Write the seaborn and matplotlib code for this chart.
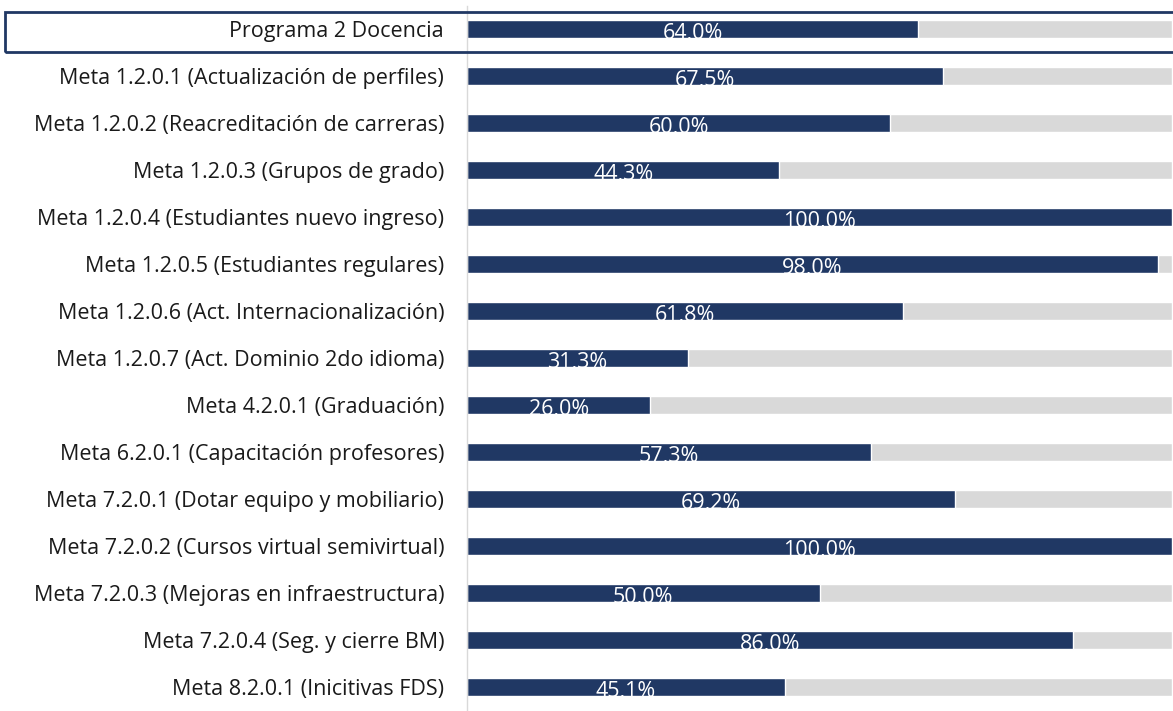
import pandas as pd
import matplotlib.pyplot as plt
import seaborn as sns
from matplotlib.patches import Rectangle

# Data
labels = [
    "Programa 2 Docencia",
    "Meta 1.2.0.1 (Actualización de perfiles)",
    "Meta 1.2.0.2 (Reacreditación de carreras)",
    "Meta 1.2.0.3 (Grupos de grado)",
    "Meta 1.2.0.4 (Estudiantes nuevo ingreso)",
    "Meta 1.2.0.5 (Estudiantes regulares)",
    "Meta 1.2.0.6 (Act. Internacionalización)",
    "Meta 1.2.0.7 (Act. Dominio 2do idioma)",
    "Meta 4.2.0.1 (Graduación)",
    "Meta 6.2.0.1 (Capacitación profesores)",
    "Meta 7.2.0.1 (Dotar equipo y mobiliario)",
    "Meta 7.2.0.2 (Cursos virtual semivirtual)",
    "Meta 7.2.0.3 (Mejoras en infraestructura)",
    "Meta 7.2.0.4 (Seg. y cierre BM)",
    "Meta 8.2.0.1 (Inicitivas FDS)",
]
avance = [64.0, 67.5, 60.0, 44.3, 100.0, 98.0, 61.8, 31.3, 26.0, 57.3, 69.2, 100.0, 50.0, 86.0, 45.1]
total = [100.0] * len(labels)

df = pd.DataFrame({"Meta": labels, "Avance": avance, "Total": total})

navy = "#203864"
gray = "#D9D9D9"

sns.set_theme(style="white")
plt.rcParams['font.family'] = ['Open Sans', 'DejaVu Sans']

fig = plt.figure(figsize=(11.73, 7.11), dpi=100)
ax = fig.add_axes([467 / 1173, 0.5 / 711, 705 / 1173, 705 / 711])

# gray background bar (100%) under the achieved value
sns.barplot(data=df, x="Total", y="Meta", color=gray, width=0.4, ax=ax, saturation=1)
sns.barplot(data=df, x="Avance", y="Meta", color=navy, width=0.4, ax=ax, saturation=1)

for i, v in enumerate(avance):
    ax.text(v / 2, i + 0.1, f"{v:.1f}%".replace(".", ","), color="white",
            ha="center", va="center", fontsize=15.5)

ax.set_xlim(0, 100)
ax.set_ylim(14.5, -0.5)
ax.set_xlabel("")
ax.set_ylabel("")
ax.set_xticks([])
ax.tick_params(axis="y", length=0, pad=16.5, labelsize=15.5, labelcolor="#1a1a1a")
for s in ["top", "right", "bottom"]:
    ax.spines[s].set_visible(False)
ax.spines["left"].set_color("#D9D9D9")
ax.spines["left"].set_linewidth(1)

# box around the first row
fig.patches.append(Rectangle((5 / 1173, 1 - 52 / 711), 1.0, 40 / 711,
                             transform=fig.transFigure, fill=False,
                             edgecolor=navy, linewidth=2, zorder=5))

plt.savefig("out.png", dpi=100)
